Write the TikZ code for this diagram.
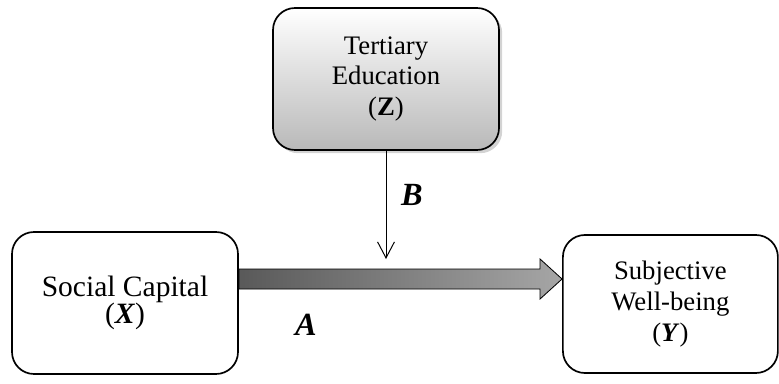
\documentclass[tikz,border=0pt]{standalone}
\usepackage{fontspec}
\setmainfont{Liberation Serif}
\usetikzlibrary{shadows,calc,arrows.meta}

\tikzset{box/.style={draw, line width=1.2pt, rounded corners=0.55cm, align=center, inner sep=0pt}}

\begin{document}
\begin{tikzpicture}
  \useasboundingbox (0,0) rectangle (19.475,9.575);
  \node (edu) [box, minimum width=5.65cm, minimum height=3.55cm, top color=white, bottom color=gray!55, drop shadow={opacity=0.35, shadow xshift=0.08cm, shadow yshift=-0.08cm}, font=\fontsize{19}{22}\selectfont] at (9.65,7.6) {Tertiary\\Education\\(\textbf{Z})};
  \node (soc) [box, fill=white, minimum width=5.65cm, minimum height=3.55cm, font=\fontsize{21}{19.5}\selectfont] at (3.125,2.0) {Social Capital\\(\textbf{\itshape X})};
  \node (swb) [box, fill=white, minimum width=5.375cm, minimum height=3.45cm, font=\fontsize{19}{22}\selectfont] at (16.76,1.975) {Subjective\\Well-being\\(\textbf{\itshape Y})};
  % main effect A
  \coordinate (a0) at ([yshift=0.6cm]soc.east);
  \coordinate (a1) at (swb.west |- a0);
  \shade[draw, line width=0.6pt, left color=gray!70!black, right color=gray!70] ($(a0)+(0,0.25)$) -- ($(a1)+(-0.55,0.25)$) -- ++(0,0.25) -- (a1) -- ($(a1)+(-0.55,-0.5)$) -- ++(0,0.25) -- ($(a0)+(0,-0.25)$) -- cycle;
  % moderation B
  \coordinate (hit) at (edu.south |- 0,3.1);
  \draw[-{Straight Barb[length=0.4cm,width=0.42cm]}, line width=0.7pt] (edu.south) -- (hit);
  \node (labB) at (10.3,4.7) {\fontsize{23}{23}\selectfont\bfseries\itshape B};
  \node (labA) at (7.65,1.45) {\fontsize{23}{23}\selectfont\bfseries\itshape A};
\end{tikzpicture}
\end{document}
